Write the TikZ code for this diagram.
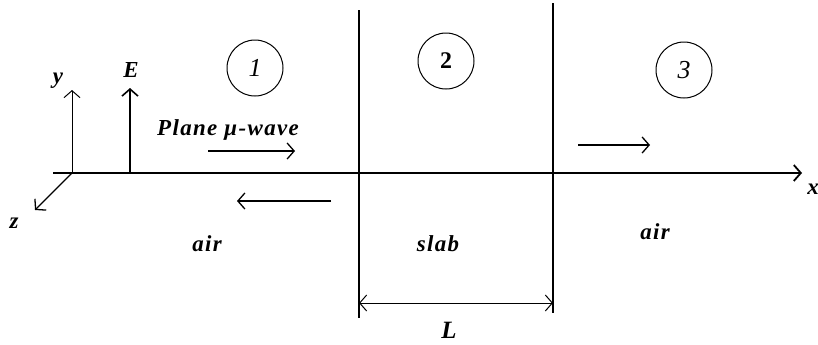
\documentclass[tikz,border=0pt]{standalone}
\usepackage{fontspec}
\setmainfont{Liberation Serif}
\usetikzlibrary{positioning,arrows.meta}

\begin{document}
\begin{tikzpicture}[x=1bp,y=-1bp,
                    every node/.style={inner sep=0pt,
                      font=\fontsize{23}{26}\selectfont\bfseries\itshape\addfontfeature{LetterSpace=6}},
                    line/.style={line width=1.3bp},
                    tip/.style={-{Straight Barb[length=7bp,width=16bp]}},
                    tips/.style={{Straight Barb[length=7bp,width=16bp]}-{Straight Barb[length=7bp,width=16bp]}},
                    region/.style={draw,circle,minimum size=56bp,line width=1bp,
                      font=\fontsize{26}{28}\selectfont\itshape}]
  \useasboundingbox (0,0) rectangle (818,344);

  % axes
  \coordinate (O)  at (72,173);
  \coordinate (xs) at (53,173);
  \coordinate (xe) at (802,173);
  \coordinate (ye) at (72,90);
  \coordinate (ze) at (35,210);
  \draw[line width=1.8bp,tip] (xs) -- (xe);
  \draw[line width=1bp,tip] (O) -- (ye);
  \draw[line,tip] (O) -- (ze);
  \node (xl) at (813,189) {x};
  \node (yl) at (58,81)   {y};
  \node (zl) at (14,223)  {z};

  % field
  \coordinate (Eb) at (130,173);
  \coordinate (Et) at (130,88);
  \draw[line width=1.6bp,tip] (Eb) -- (Et);
  \node (El) at (131,70) {E};

  % slab faces
  \coordinate (s1t) at (359,10);
  \coordinate (s1b) at (359,318);
  \coordinate (s2t) at (553,3);
  \coordinate (s2b) at (553,313);
  \draw[line] (s1t) -- (s1b);
  \draw[line] (s2t) -- (s2b);
  \coordinate (La) at (359,303);
  \coordinate (Lb) at (553,303);
  \draw[line width=1bp,tips] (La) -- (Lb);
  \node[font=\fontsize{25}{27}\selectfont\bfseries\itshape] (Ll) at (449,330) {L};

  % regions
  \node[region] (r1) at (255,68) {1};
  \node[region,font=\fontsize{24}{26}\selectfont\bfseries] (r2) at (446,61) {2};
  \node[region] (r3) at (684,70) {3};
  \node (a1) at (207,244) {air};
  \node (sl) at (438,244) {slab};
  \node (a3) at (655,232) {air};

  % waves
  \node (pw) at (228,130) {Plane μ-wave};
  \coordinate (i1) at (208,151);
  \coordinate (i2) at (295,151);
  \coordinate (f1) at (331,201);
  \coordinate (f2) at (237,201);
  \coordinate (t1) at (578,145);
  \coordinate (t2) at (650,145);
  \draw[line,tip] (i1) -- (i2);
  \draw[line,tip] (f1) -- (f2);
  \draw[line,tip] (t1) -- (t2);
\end{tikzpicture}
\end{document}
